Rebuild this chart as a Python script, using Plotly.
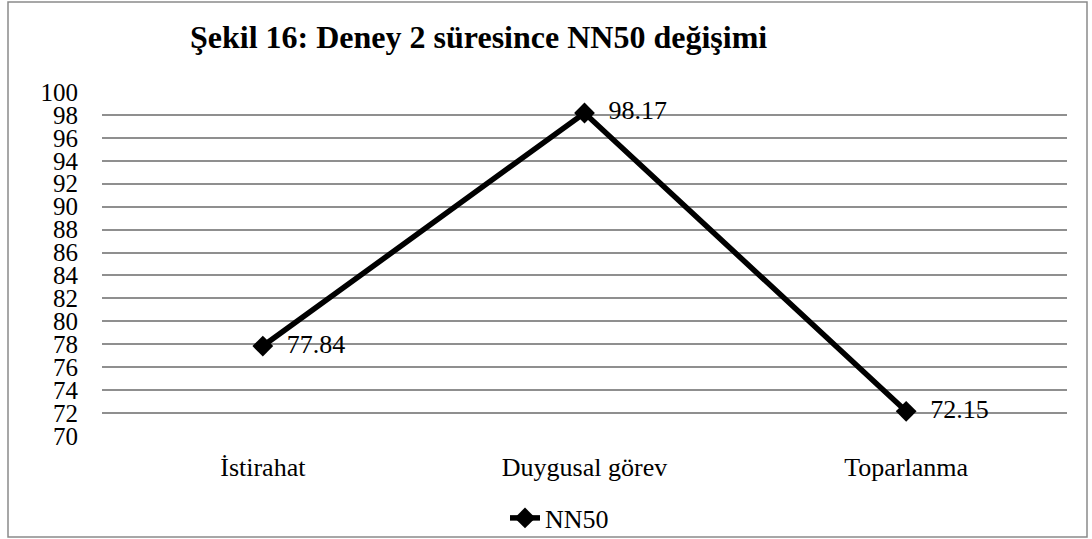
import plotly.graph_objects as go

categories = ["İstirahat", "Duygusal görev", "Toparlanma"]
nn50 = [77.84, 98.17, 72.15]
labels = ["77.84", "98.17", "72.15"]
series_name = "NN50"
title_text = "Şekil 16: Deney 2 süresince NN50 değişimi"
ytick_vals = list(range(70, 101, 2))

W, H = 1092, 539
L, R, T, B = 102, 1092 - 1067, 92, 539 - 436
FONT = "'Times New Roman', 'Liberation Serif', serif"

fig = go.Figure()
fig.add_trace(go.Scatter(
    x=categories, y=nn50, name=series_name,
    mode="lines+markers+text",
    line=dict(color="black", width=5.5),
    marker=dict(symbol="diamond", size=16, color="black"),
    text=["  " + t for t in labels], textposition="middle right",
    textfont=dict(family=FONT, size=26, color="black"),
    cliponaxis=False,
))

pw = W - L - R
ph = H - T - B
def px_x(p):
    return (p - L) / pw
def px_y(p):
    return (H - B - p) / ph

fig.update_layout(
    width=W, height=H,
    margin=dict(l=L, r=R, t=T, b=B, autoexpand=False),
    paper_bgcolor="white", plot_bgcolor="white",
    font=dict(family=FONT, size=26, color="black"),
    title=dict(text="<b>" + title_text + "</b>", x=190 / W, xref="container", xanchor="left",
               y=1 - 37 / H, yref="container", yanchor="middle",
               font=dict(family=FONT, size=32, color="black")),
    showlegend=True,
    legend=dict(orientation="h", x=px_x(505), xanchor="left", y=px_y(518), yanchor="middle",
                font=dict(family=FONT, size=26, color="black"), bgcolor="rgba(0,0,0,0)"),
    xaxis=dict(range=[-0.5, 2.5], showgrid=False, zeroline=False, showline=False, ticks="",
               tickfont=dict(family=FONT, size=26), ticklabelstandoff=13),
    yaxis=dict(range=[70, 100], tickvals=ytick_vals, showgrid=True, gridcolor="#8f8f8f",
               gridwidth=1.5, zeroline=False, showline=False, ticks="",
               tickfont=dict(family=FONT, size=25), ticklabelstandoff=23),
    shapes=[dict(type="rect", xref="paper", yref="paper",
                 x0=px_x(8), x1=px_x(1087), y0=px_y(537), y1=px_y(2),
                 line=dict(color="#8a8a8a", width=1.5), fillcolor="rgba(0,0,0,0)", layer="below")],
)

fig.write_html("out.html")
